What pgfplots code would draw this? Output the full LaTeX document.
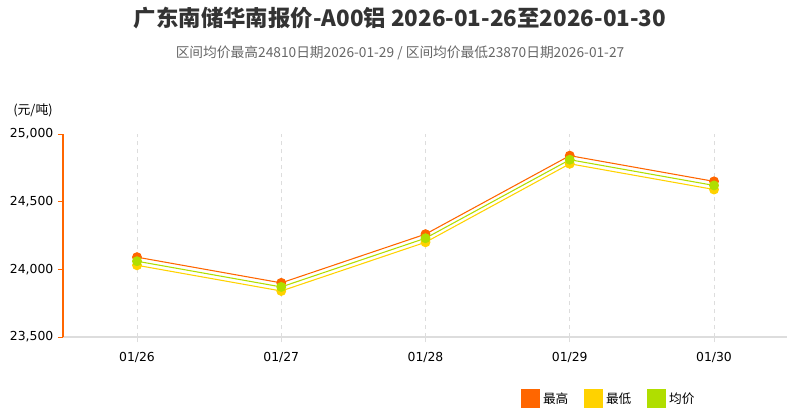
\documentclass[border=0pt]{standalone}
\usepackage{fontspec}
\setmainfont{Noto Sans CJK SC}
\newfontfamily\numfont{DejaVu Sans}
\usepackage{pgfplots}
\pgfplotsset{compat=1.18}

\definecolor{cHigh}{HTML}{FF6600}
\definecolor{cLow}{HTML}{FFD200}
\definecolor{cAvg}{HTML}{B0DE00}
\definecolor{cTitle}{HTML}{333333}
\definecolor{cSub}{HTML}{666666}
\definecolor{cGrid}{HTML}{DDDDDD}

% daily quotes, A00 aluminium (yuan/t)
\pgfplotstableread{
idx high  low   avg
0   24090 24030 24060
1   23900 23840 23870
2   24260 24200 24230
3   24840 24780 24810
4   24650 24590 24620
}\prices

\begin{document}
\begin{tikzpicture}
% 1px = 0.75pt, origin at the top left corner of the picture
\useasboundingbox (0,0) rectangle (594pt,-309pt);
\node[font=\bfseries\fontsize{16.8}{20}\selectfont, text=cTitle] at (300pt,-13.5pt)
  {广东南储华南报价-A00铝 2026-01-26至2026-01-30};
\node[font=\fontsize{10.3}{12}\selectfont, text=cSub] at (300pt,-39.75pt)
  {区间均价最高24810日期2026-01-29 / 区间均价最低23870日期2026-01-27};
\node[font=\fontsize{9.6}{11}\selectfont, text=black] at (24.75pt,-82.5pt) {(元/吨)};

\begin{axis}[
    at={(47.25pt,-252.75pt)}, anchor=south west,
    scale only axis, width=543pt, height=152.25pt,
    xmin=-0.513, xmax=4.506,
    ymin=23500, ymax=25000,
    xtick={0,...,4},
    xticklabels={01/26,01/27,01/28,01/29,01/30},
    ytick={23500,24000,24500,25000},
    scaled y ticks=false,
    /pgf/number format/.cd, 1000 sep={,}, assume math mode=true, /pgfplots/.cd,
    axis x line*=bottom, axis y line*=left,
    x axis line style={-, draw=cGrid, line width=1.5pt},
    y axis line style={-, draw=cHigh, line width=1.5pt},
    tick align=outside,
    major tick length=3.75pt,
    xtick style={draw=cGrid, line width=0.75pt},
    ytick style={draw=cHigh, line width=0.75pt},
    xmajorgrids,
    major x grid style={dashed, draw=cGrid, line width=0.75pt},
    ticklabel style={font=\numfont\fontsize{9.3}{11}\selectfont, text=black},
    xticklabel style={yshift=-4pt},
    legend columns=3,
    legend cell align=left,
    legend image code/.code={\fill[#1] (0pt,-6.75pt) rectangle (13.5pt,6.75pt);},
    legend style={at={(0.6326,-0.305)}, anchor=west, draw=none, fill=none,
        font=\fontsize{9.5}{11}\selectfont, inner sep=0pt,
        /tikz/every even column/.append style={column sep=10pt}},
    every axis plot/.append style={line width=0.8pt, mark=*, mark size=3.3pt},
]
\addplot[color=cHigh, mark options={fill=cHigh, draw=cHigh}] table[x=idx, y=high] {\prices};
\addlegendentry{最高}
\addplot[color=cLow, mark options={fill=cLow, draw=cLow}] table[x=idx, y=low] {\prices};
\addlegendentry{最低}
\addplot[color=cAvg, mark options={fill=cAvg, draw=cAvg}] table[x=idx, y=avg] {\prices};
\addlegendentry{均价}
\end{axis}
\end{tikzpicture}
\end{document}
